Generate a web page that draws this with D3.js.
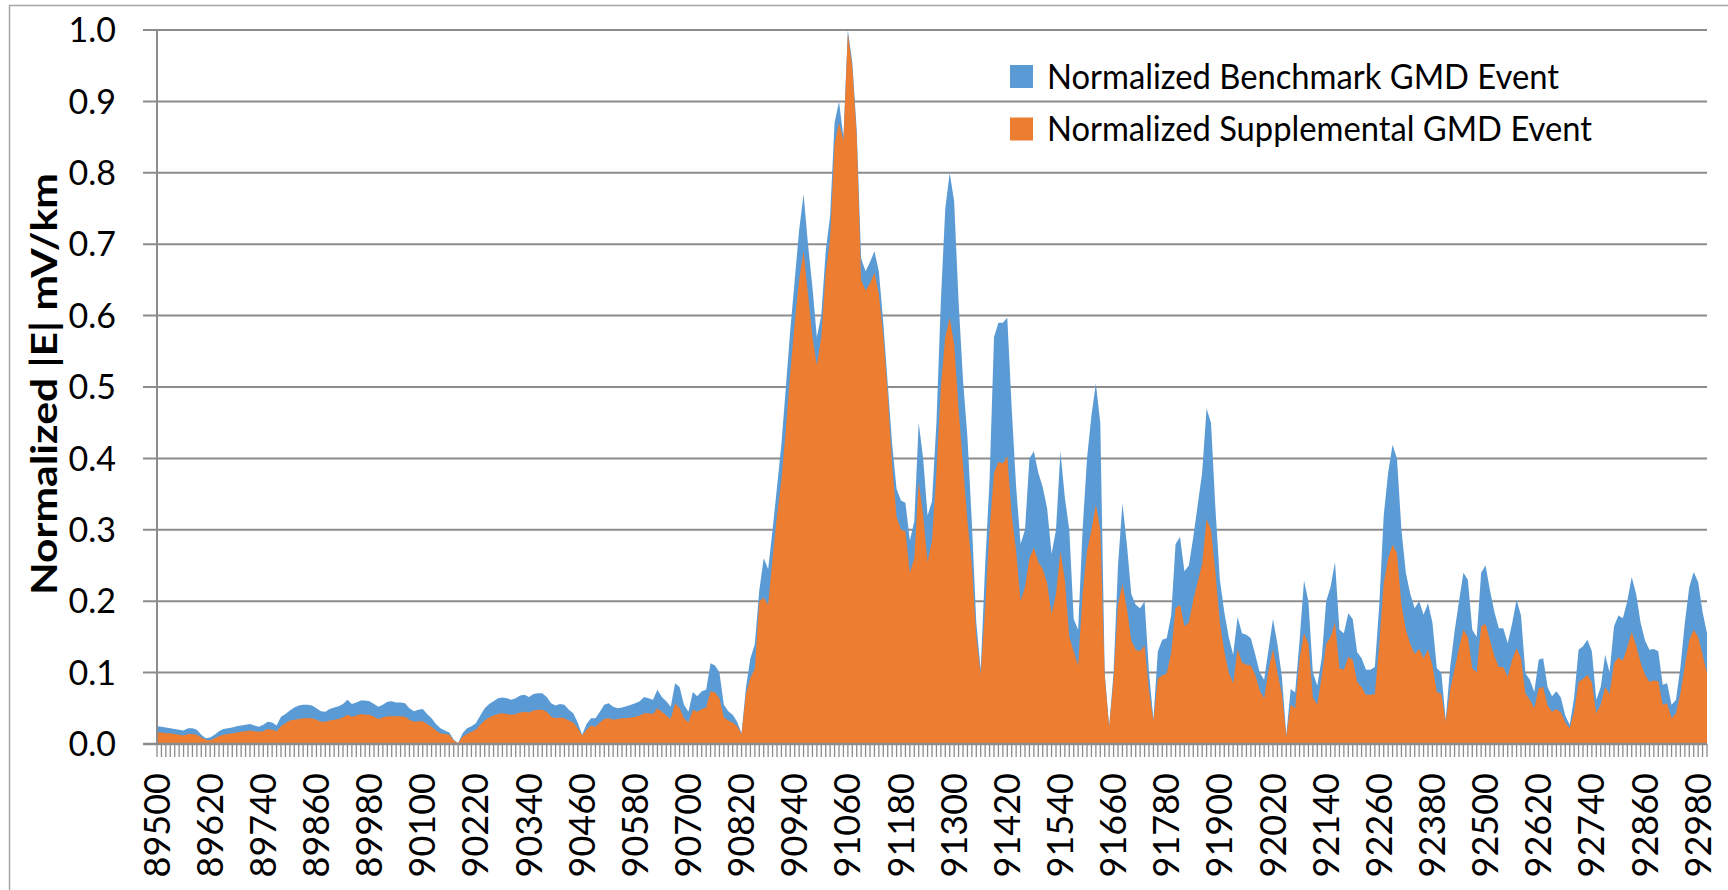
<!DOCTYPE html>
<html><head><meta charset="utf-8">
<script src="https://cdn.jsdelivr.net/npm/d3@7"></script>
<style>body{margin:0;background:#fff}svg{display:block}text{font-family:Lato,"Open Sans",sans-serif;fill:#000}</style>
</head><body><svg id="c" width="1728" height="890"></svg>
<script>
const categories = d3.range(89500, 93001, 10).map(String);
const benchmark = [
.025,.024,.023,.022,.021,.020,.019,.022,.022,.020,
.013,.008,.009,.013,.018,.021,.022,.023,.025,.026,
.027,.028,.026,.024,.027,.031,.030,.026,.038,.042,
.047,.051,.054,.055,.055,.054,.050,.046,.045,.049,
.051,.053,.056,.062,.056,.058,.061,.061,.060,.056,
.052,.055,.059,.060,.058,.058,.057,.050,.046,.048,
.049,.042,.036,.028,.022,.019,.016,.006,.001,.015,
.022,.025,.029,.040,.050,.056,.060,.064,.065,.064,
.062,.064,.068,.069,.066,.070,.071,.071,.066,.057,
.054,.056,.055,.048,.043,.030,.013,.028,.036,.036,
.045,.055,.057,.052,.050,.051,.053,.055,.057,.060,
.066,.064,.062,.076,.066,.060,.052,.085,.080,.055,
.045,.073,.067,.074,.076,.113,.110,.100,.055,.046,
.041,.031,.015,.080,.120,.140,.215,.260,.245,.300,
.360,.420,.500,.580,.650,.720,.770,.700,.640,.570,
.600,.690,.740,.870,.900,.850,1.000,.955,.860,.680,
.662,.675,.690,.662,.590,.505,.420,.357,.341,.338,
.285,.312,.450,.400,.320,.340,.450,.620,.750,.800,
.760,.620,.510,.430,.310,.170,.104,.250,.370,.570,
.590,.590,.597,.470,.360,.280,.300,.400,.410,.380,
.360,.330,.266,.300,.410,.345,.300,.175,.160,.300,
.400,.460,.505,.450,.100,.025,.100,.250,.337,.280,
.210,.195,.190,.200,.100,.035,.130,.146,.148,.180,
.280,.290,.242,.250,.290,.335,.380,.470,.450,.330,
.230,.185,.150,.125,.178,.155,.153,.148,.125,.100,
.090,.133,.175,.140,.095,.013,.077,.072,.145,.229,
.200,.100,.082,.120,.200,.220,.255,.160,.155,.183,
.175,.129,.120,.104,.104,.108,.195,.320,.380,.419,
.400,.300,.240,.210,.190,.200,.181,.197,.170,.106,
.100,.034,.108,.158,.200,.240,.230,.160,.150,.240,
.250,.215,.185,.162,.162,.141,.169,.202,.180,.099,
.090,.073,.118,.120,.080,.067,.074,.065,.040,.027,
.065,.132,.137,.146,.130,.062,.080,.125,.100,.165,
.180,.176,.200,.234,.210,.170,.145,.132,.133,.130,
.083,.085,.055,.062,.108,.170,.220,.241,.227,.185,
.155];
const supplemental = [
.016,.016,.015,.015,.014,.013,.012,.014,.014,.013,
.009,.006,.005,.008,.011,.013,.014,.015,.016,.017,
.018,.019,.018,.017,.018,.021,.020,.018,.025,.029,
.033,.034,.035,.036,.036,.036,.034,.031,.031,.033,
.034,.035,.037,.041,.038,.040,.042,.041,.041,.038,
.035,.037,.039,.039,.039,.039,.038,.034,.031,.032,
.032,.028,.024,.019,.015,.014,.013,.005,.001,.010,
.014,.017,.020,.027,.033,.037,.040,.042,.043,.042,
.041,.042,.044,.045,.044,.047,.048,.048,.045,.038,
.036,.037,.036,.033,.030,.022,.012,.020,.026,.024,
.030,.035,.036,.034,.035,.036,.036,.037,.038,.040,
.043,.043,.042,.050,.045,.040,.035,.057,.050,.036,
.030,.048,.045,.049,.051,.074,.072,.064,.037,.033,
.030,.025,.014,.070,.093,.105,.200,.205,.195,.260,
.320,.370,.440,.520,.590,.650,.690,.630,.570,.530,
.570,.660,.708,.840,.870,.845,.995,.948,.850,.650,
.635,.645,.660,.630,.571,.490,.390,.318,.300,.298,
.240,.260,.367,.320,.255,.285,.380,.500,.570,.597,
.560,.470,.390,.312,.250,.150,.097,.190,.300,.380,
.395,.393,.403,.320,.270,.200,.220,.260,.275,.255,
.245,.225,.182,.210,.270,.230,.150,.130,.110,.210,
.270,.300,.335,.300,.095,.023,.090,.195,.224,.190,
.145,.132,.130,.138,.075,.032,.092,.096,.099,.127,
.190,.195,.165,.170,.202,.227,.252,.315,.300,.240,
.170,.130,.100,.085,.133,.114,.111,.110,.097,.075,
.064,.104,.133,.100,.070,.010,.055,.050,.120,.155,
.140,.065,.055,.095,.140,.150,.170,.106,.104,.122,
.118,.087,.080,.069,.069,.070,.140,.225,.260,.279,
.267,.195,.160,.140,.126,.133,.120,.132,.110,.073,
.070,.031,.076,.105,.135,.160,.150,.106,.100,.165,
.168,.145,.123,.108,.108,.094,.118,.134,.120,.071,
.062,.050,.078,.080,.054,.045,.049,.044,.030,.022,
.046,.087,.091,.097,.086,.043,.055,.080,.070,.113,
.121,.117,.135,.157,.138,.114,.097,.087,.089,.088,
.055,.057,.036,.043,.071,.110,.146,.160,.150,.125,
.099];
const xTickLabels = ["89500","89620","89740","89860","89980","90100","90220","90340","90460","90580",
"90700","90820","90940","91060","91180","91300","91420","91540","91660","91780",
"91900","92020","92140","92260","92380","92500","92620","92740","92860","92980"];
const yTicks = [0,0.1,0.2,0.3,0.4,0.5,0.6,0.7,0.8,0.9,1.0];
const seriesNames = ["Normalized Benchmark GMD Event","Normalized Supplemental GMD Event"];
const seriesColors = ["#5B9BD5","#ED7D31"];
const yTitle = "Normalized |E| mV/km";

const svg = d3.select("#c");
const L = 157, R = 1707, T = 30, B = 744;
const x = d3.scalePoint().domain(categories).range([L, R]);
const y = d3.scaleLinear().domain([0, 1]).range([B, T]);
const grid = "#8c8c8c";

svg.append("rect").attr("x",9.5).attr("y",5.5).attr("width",1760).attr("height",950)
  .attr("fill","#fff").attr("stroke","#a6a6a6").attr("stroke-width",1.5);

// gridlines with outside ticks
svg.append("g").selectAll("line").data(yTicks).join("line")
  .attr("x1", L-14).attr("x2", R).attr("y1", d=>y(d)).attr("y2", d=>y(d))
  .attr("stroke", grid).attr("stroke-width", 2);

const area = vals => d3.area().x((d,i)=>x(categories[i])).y0(y(0)).y1(d=>y(d))(vals);
svg.append("path").attr("d", area(benchmark)).attr("fill", seriesColors[0]);
svg.append("path").attr("d", area(supplemental)).attr("fill", seriesColors[1]);

// axes lines
svg.append("line").attr("x1",L).attr("x2",L).attr("y1",T).attr("y2",B).attr("stroke",grid).attr("stroke-width",2);
svg.append("line").attr("x1",L-14).attr("x2",R).attr("y1",B).attr("y2",B).attr("stroke",grid).attr("stroke-width",2.5);
svg.append("g").selectAll("line").data(categories).join("line")
  .attr("x1", d=>x(d)).attr("x2", d=>x(d)).attr("y1", B).attr("y2", B+13)
  .attr("stroke", grid).attr("stroke-width", 1.3);

// y labels
svg.append("g").selectAll("text").data(yTicks).join("text")
  .attr("x", 116).attr("y", d=>y(d)).attr("dy","0.36em").attr("text-anchor","end")
  .attr("font-size", 34).text(d=>d3.format(".1f")(d));

// x labels
svg.append("g").selectAll("text").data(xTickLabels).join("text")
  .attr("transform", d=>`translate(${x(d)},${B+29}) rotate(-90)`)
  .attr("dy","0.35em").attr("text-anchor","end").attr("font-size", 36).text(d=>d);

// y title
svg.append("text").attr("transform", `translate(57,384) rotate(-90)`)
  .attr("text-anchor","middle").attr("font-size", 37).attr("font-weight","bold")
  .attr("textLength", 422).attr("lengthAdjust","spacingAndGlyphs").text(yTitle);

// legend
const lg = svg.append("g");
const legW = [512, 545];
seriesNames.forEach((n,i)=>{
  const cy = 76.5 + i*52.5;
  lg.append("rect").attr("x",1010).attr("y",cy-11.5).attr("width",23).attr("height",23).attr("fill",seriesColors[i]);
  lg.append("text").attr("x",1047).attr("y",cy).attr("dy","0.35em").attr("font-size",35)
    .attr("textLength", legW[i]).attr("lengthAdjust","spacingAndGlyphs").text(n);
});
</script></body></html>
